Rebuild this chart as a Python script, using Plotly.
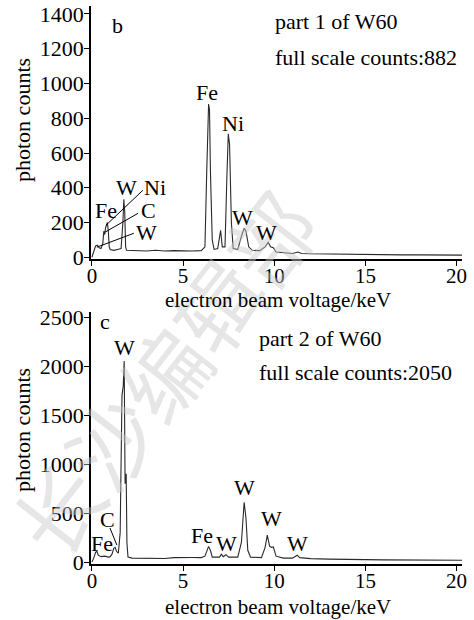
import plotly.graph_objects as go

# ---- data ----
kev_b = [0.0, 0.1, 0.2, 0.3, 0.4, 0.5, 0.6, 0.65, 0.7, 0.75, 0.8, 0.85, 0.9, 0.95, 1.0, 1.2, 1.4, 1.6,
         1.7, 1.75, 1.8, 1.85, 1.9, 2.5, 3.0, 3.5, 4.0, 4.5, 5.0, 5.5, 6.0, 6.2, 6.3, 6.4, 6.45, 6.5,
         6.6, 6.7, 6.9, 7.0, 7.06, 7.15, 7.3, 7.4, 7.48, 7.55, 7.65, 7.75, 8.0, 8.2, 8.35, 8.45, 8.6,
         8.8, 9.2, 9.5, 9.67, 9.8, 9.95, 10.1, 10.5, 11.0, 11.3, 11.5, 12.0, 13.0, 14.0, 15.0, 16.0,
         17.0, 18.0, 19.0, 20.0, 20.4]
counts_b = [0, 30, 65, 70, 55, 50, 80, 150, 130, 170, 190, 200, 150, 60, 45, 40, 45, 50,
            200, 334, 260, 60, 40, 38, 36, 40, 36, 38, 35, 36, 38, 60, 500, 882, 850, 500,
            100, 45, 50, 120, 155, 60, 60, 450, 710, 650, 200, 50, 45, 120, 167, 150, 60,
            40, 38, 60, 86, 60, 55, 30, 25, 22, 30, 22, 20, 18, 20, 16, 15,
            14, 14, 13, 12, 12]

kev_c = [0.0, 0.1, 0.2, 0.27, 0.35, 0.5, 0.7, 0.9, 1.0, 1.1, 1.2, 1.27, 1.35, 1.45, 1.55, 1.65,
         1.72, 1.77, 1.82, 1.85, 1.88, 1.92, 1.98, 2.2, 3.0, 4.0, 4.5, 5.0, 5.5, 6.0, 6.2, 6.4,
         6.5, 6.6, 7.0, 7.1, 7.2, 7.35, 7.5, 8.0, 8.2, 8.35, 8.45, 8.55, 8.7, 9.3, 9.5, 9.62,
         9.75, 9.85, 9.95, 10.1, 10.5, 11.0, 11.26, 11.4, 12.0, 13.0, 14.0, 15.0, 16.0, 17.0,
         18.0, 19.0, 20.0, 20.4]
counts_c = [0, 40, 100, 110, 70, 55, 60, 50, 55, 80, 140, 150, 110, 90, 300, 1700,
            1800, 2050, 800, 900, 900, 200, 50, 40, 38, 36, 45, 48, 46, 45, 60, 160,
            120, 50, 50, 80, 55, 75, 50, 50, 200, 610, 450, 120, 50, 45, 150, 275,
            160, 150, 155, 60, 40, 40, 70, 45, 35, 30, 30, 25, 22, 20,
            20, 18, 18, 18]

x_ticks = [0, 5, 10, 15, 20]
y_ticks_b = [0, 200, 400, 600, 800, 1000, 1200, 1400]
y_ticks_c = [0, 500, 1000, 1500, 2000, 2500]

# peak labels: (text, keV, counts)
labels_b = [("Fe", 6.32, 950), ("Ni", 7.75, 772), ("W", 8.24, 230), ("W", 9.6, 144),
            ("W", 1.87, 403), ("Ni", 3.46, 403), ("Fe", 0.77, 270), ("C", 3.08, 270),
            ("W", 2.97, 144)]
leaders_b = [((2.8, 386), (0.77, 184)), ((2.53, 253), (0.71, 144)), ((2.3, 138), (0.27, 58))]
labels_c = [("W", 1.76, 2184), ("C", 0.88, 429), ("Fe", 0.55, 194), ("Fe", 6.04, 275),
            ("W", 7.36, 194), ("W", 8.35, 765), ("W", 9.83, 449), ("W", 11.3, 194)]
leaders_c = [((0.99, 347), (1.37, 173))]

FONT = "Liberation Serif"
FS = 22
W, H = 474, 620


def PX(px):
    return px / W


def PY(py):
    return 1 - py / H


fig = go.Figure()
fig.add_trace(go.Scatter(x=kev_b, y=counts_b, mode="lines", line=dict(color="#2a2a2a", width=1.1),
                         xaxis="x", yaxis="y", showlegend=False, hoverinfo="skip"))
fig.add_trace(go.Scatter(x=kev_c, y=counts_c, mode="lines", line=dict(color="#2a2a2a", width=1.1),
                         xaxis="x2", yaxis="y2", showlegend=False, hoverinfo="skip"))

xd = [PX(91), PX(462)]
ax_common = dict(showline=True, linecolor="black", linewidth=1.6, ticks="outside",
                 ticklen=5, tickwidth=1.4, tickcolor="black", showgrid=False, zeroline=False,
                 ticklabeloverflow="allow", automargin=False)
tf = dict(family=FONT, size=21, color="black")

fig.update_layout(
    width=W, height=H, margin=dict(l=0, r=0, t=0, b=0),
    paper_bgcolor="white", plot_bgcolor="white",
    xaxis=dict(domain=xd, range=[-0.05, 20.3], tickvals=x_ticks, anchor="y",
               ticklabelstandoff=-8, tickfont=tf, **ax_common),
    yaxis=dict(domain=[PY(259), PY(6)], range=[-10, 1446], tickvals=y_ticks_b,
               anchor="x", ticklabelstandoff=-4, tickfont=dict(family=FONT, size=FS, color="black"),
               **ax_common),
    xaxis2=dict(domain=xd, range=[-0.05, 20.3], tickvals=x_ticks, anchor="y2",
                ticklabelstandoff=-8, tickfont=tf, **ax_common),
    yaxis2=dict(domain=[PY(564), PY(312)], range=[-20, 2551], tickvals=y_ticks_c,
                anchor="x2", ticklabelstandoff=-4, tickfont=dict(family=FONT, size=FS, color="black"),
                **ax_common),
)

ann = []
# watermark
ann.append(dict(text="长沙编辑部", xref="paper", yref="paper", x=PX(162), y=PY(372),
                xanchor="center", yanchor="middle",
                showarrow=False, textangle=-52,
                font=dict(family="Noto Sans CJK SC", size=86, color="rgba(200,200,200,0.45)")))


def lab(t, x, y, xr, yr, **kw):
    ann.append(dict(text=t, x=x, y=y, xref=xr, yref=yr, showarrow=False,
                    font=dict(family=FONT, size=FS, color="black"), **kw))


lab("b", 1.43, 1336, "x", "y")
lab("part 1 of W60", 9.95, 1354, "x", "y", xanchor="left")
lab("full scale counts:882", 9.95, 1152, "x", "y", xanchor="left")
for t, x, y in labels_b:
    lab(t, x, y, "x", "y")
lab("c", 0.71, 2459, "x2", "y2")
lab("part 2 of W60", 9.07, 2276, "x2", "y2", xanchor="left")
lab("full scale counts:2050", 9.07, 1929, "x2", "y2", xanchor="left")
for t, x, y in labels_c:
    lab(t, x, y, "x2", "y2")

# axis titles
for yc in [120, 430]:
    ann.append(dict(text="photon counts", xref="paper", yref="paper", x=PX(22), y=PY(yc),
                    xanchor="center", yanchor="middle",
                    showarrow=False, textangle=-90,
                    font=dict(family=FONT, size=FS, color="black")))
for yp in [300, 607]:
    ann.append(dict(text="electron beam voltage/keV", xref="paper", yref="paper",
                    x=PX(278), y=PY(yp), xanchor="center", yanchor="middle", showarrow=False,
                    font=dict(family=FONT, size=21, color="black")))
fig.update_layout(annotations=ann)

shapes = []
for (x0, y0), (x1, y1) in leaders_b:
    shapes.append(dict(type="line", xref="x", yref="y", x0=x0, y0=y0, x1=x1, y1=y1,
                       line=dict(color="black", width=1)))
for (x0, y0), (x1, y1) in leaders_c:
    shapes.append(dict(type="line", xref="x2", yref="y2", x0=x0, y0=y0, x1=x1, y1=y1,
                       line=dict(color="black", width=1)))
fig.update_layout(shapes=shapes)

fig.write_html("out.html", config={"displayModeBar": False},
               post_script="document.body.style.margin='0px';")
